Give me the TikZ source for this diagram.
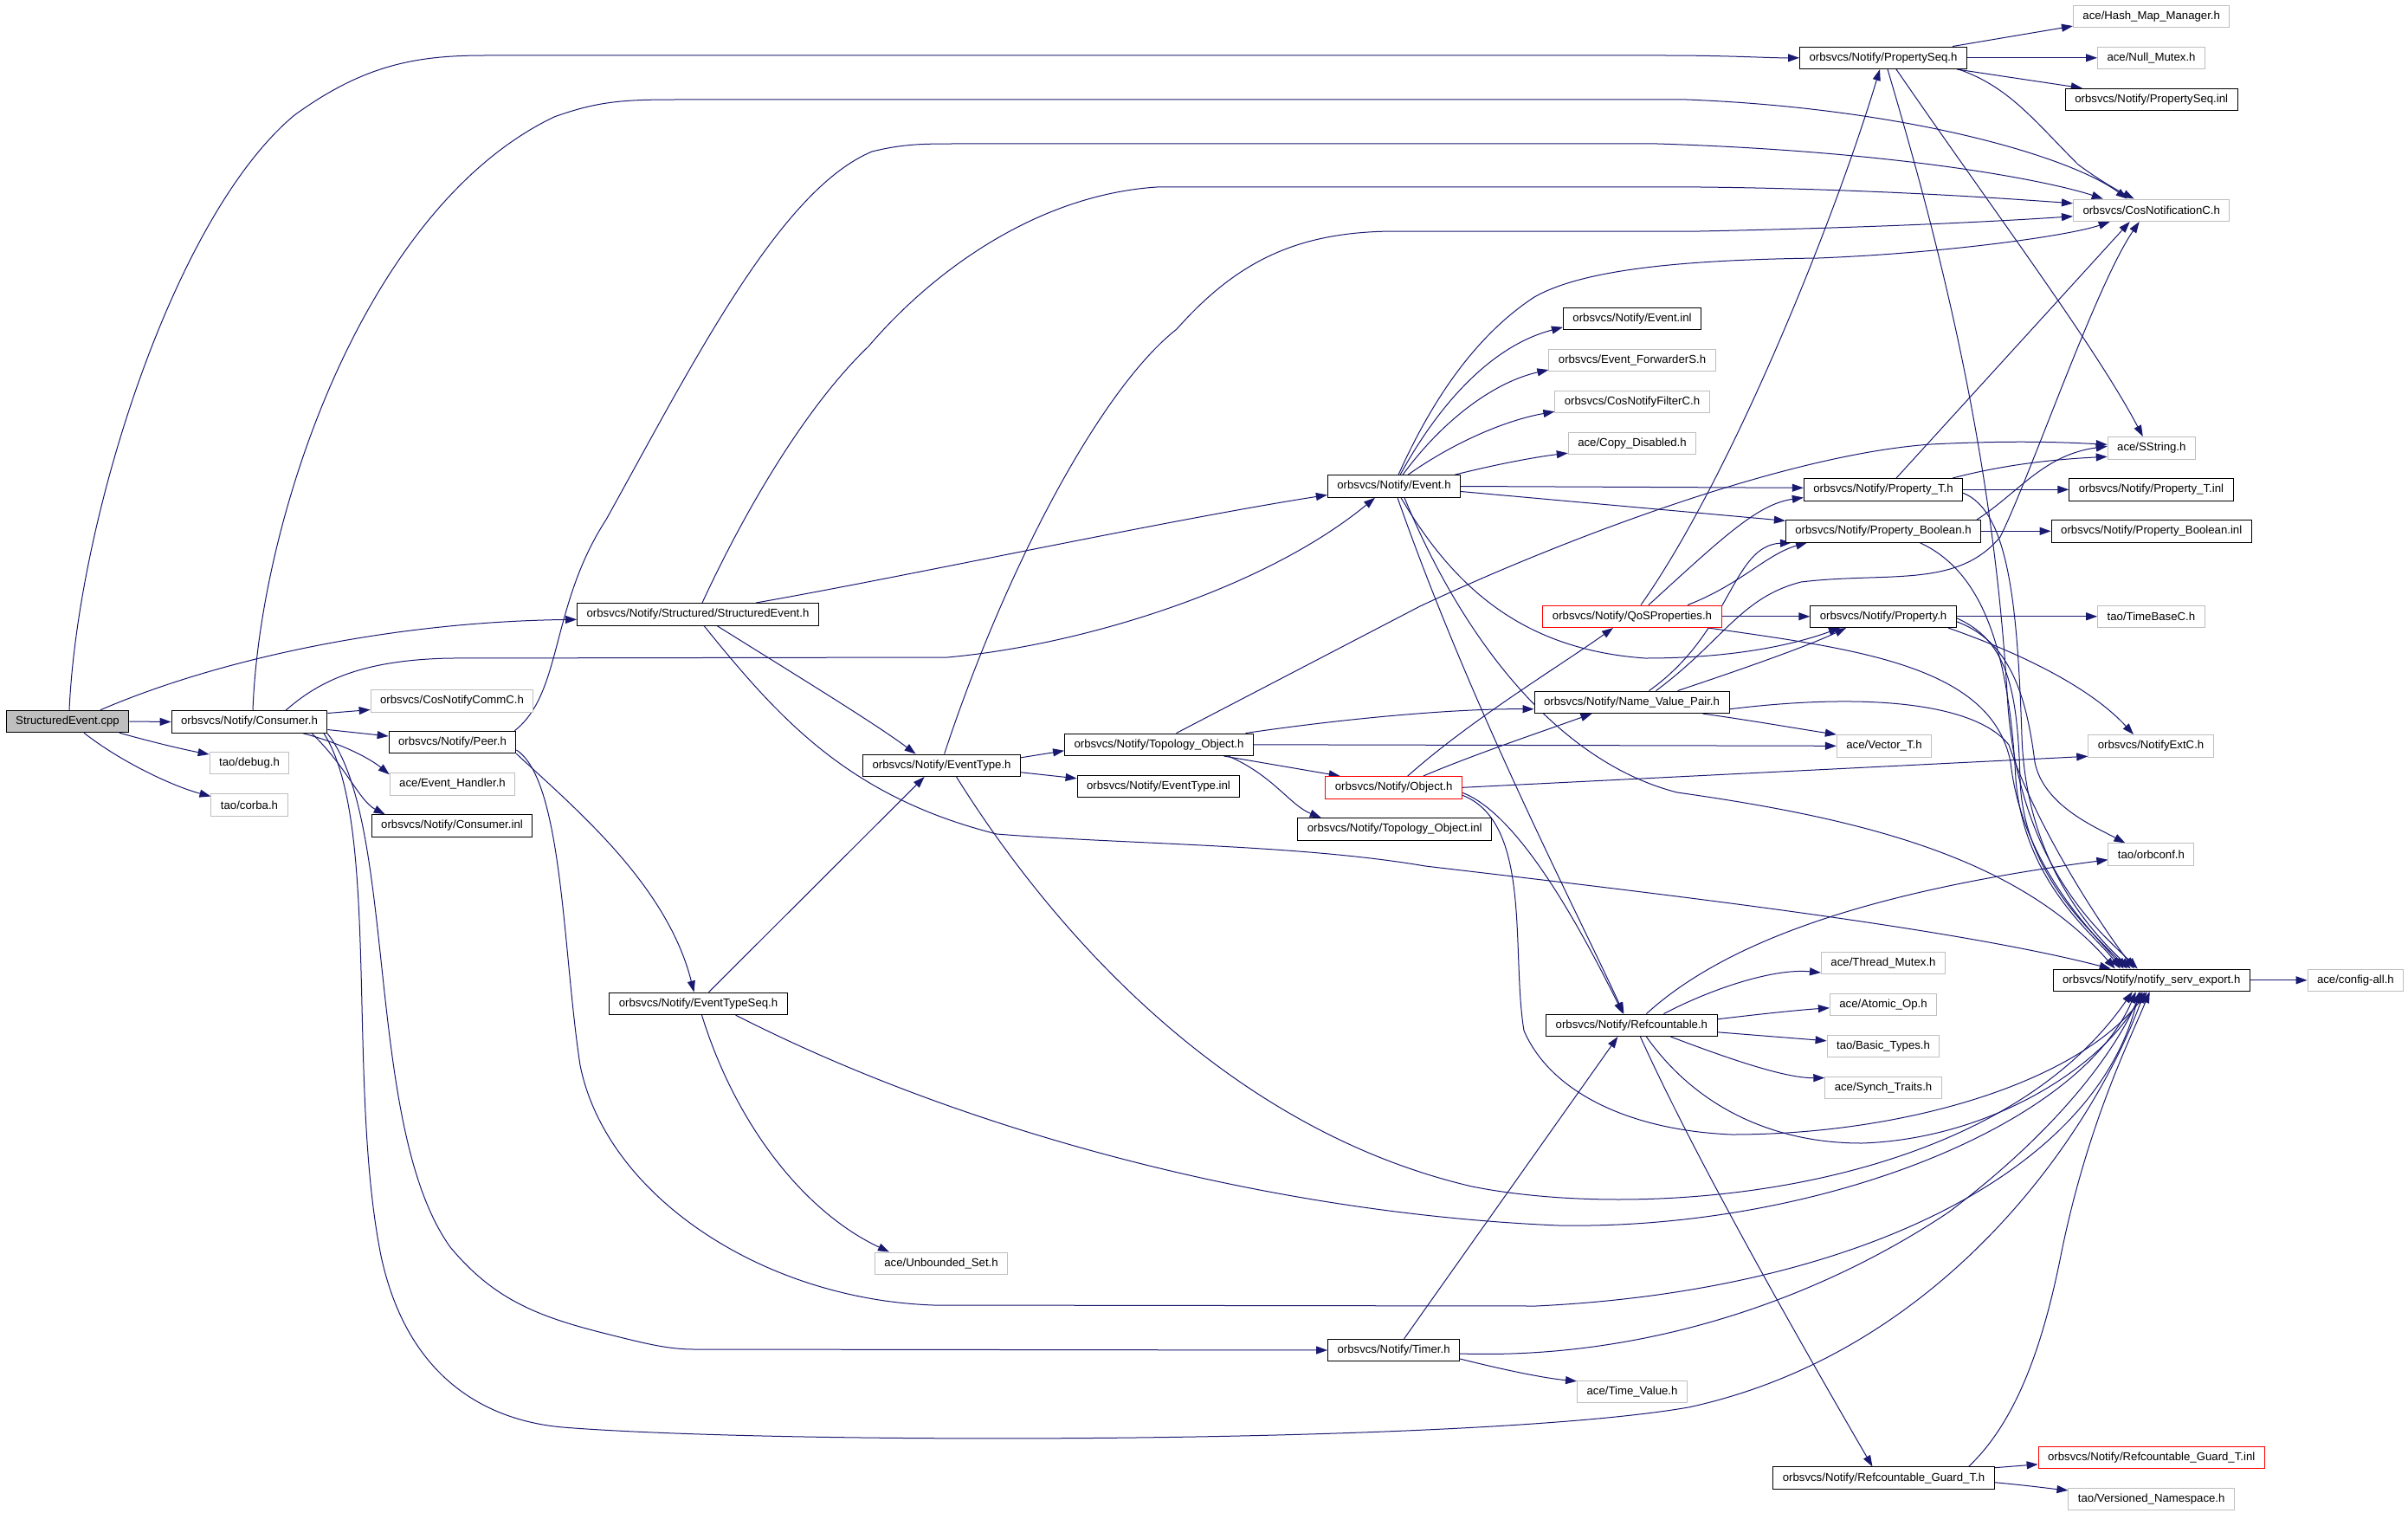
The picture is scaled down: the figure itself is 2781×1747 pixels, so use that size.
\documentclass[tikz,border=0pt]{standalone}
\usepackage{fontspec}
\setmainfont{Liberation Sans}
\usetikzlibrary{arrows.meta,backgrounds}
\definecolor{edgeblue}{HTML}{191970}
\definecolor{framegrey}{HTML}{BFBFBF}
\definecolor{rootfill}{HTML}{BFBFBF}
\begin{document}
\begin{tikzpicture}[x=1pt,y=-1pt,
        box/.style={draw=black,fill=white,line width=1pt,inner xsep=11pt,
            inner ysep=0pt,minimum height=25.5pt,font=\fontsize{13.2}{15.8}\selectfont},
        ext/.style={box,draw=framegrey},
        trunc/.style={box,draw=red},
        root/.style={box,fill=rootfill},
        edge/.style={draw=edgeblue,line width=1pt,-{Triangle[length=13pt,width=9pt]}}]
    \useasboundingbox (0,0) rectangle (2781,1747);

    \node[root]  (cpp)      at (78,833)     {StructuredEvent.cpp};
    \node[box]   (cons)     at (288,833.5)  {orbsvcs/Notify/Consumer.h};
    \node[ext]   (commc)    at (522,809.5)  {orbsvcs/CosNotifyCommC.h};
    \node[ext]   (debug)    at (288,881)    {tao/debug.h};
    \node[ext]   (corba)    at (288,929.5)  {tao/corba.h};
    \node[box]   (peer)     at (522.5,857)  {orbsvcs/Notify/Peer.h};
    \node[ext]   (evh)      at (522.5,905.5) {ace/Event\_Handler.h};
    \node[box]   (consinl)  at (522,953.5)  {orbsvcs/Notify/Consumer.inl};
    \node[box]   (sevh)     at (806,709.3)  {orbsvcs/Notify/Structured/StructuredEvent.h};
    \node[box]   (etseq)    at (806.5,1158.8) {orbsvcs/Notify/EventTypeSeq.h};
    \node[ext]   (uset)     at (1087,1458.8) {ace/Unbounded\_Set.h};
    \node[box]   (etype)    at (1087.6,883.8) {orbsvcs/Notify/EventType.h};
    \node[box]   (topo)     at (1338.5,859.8) {orbsvcs/Notify/Topology\_Object.h};
    \node[box]   (etinl)    at (1338,907.8) {orbsvcs/Notify/EventType.inl};
    \node[box]   (event)    at (1610,561.5) {orbsvcs/Notify/Event.h};
    \node[trunc] (object)   at (1609.7,909.3) {orbsvcs/Notify/Object.h};
    \node[box]   (topoinl)  at (1610.7,957.3) {orbsvcs/Notify/Topology\_Object.inl};
    \node[box]   (timer)    at (1609.6,1559) {orbsvcs/Notify/Timer.h};
    \node[box]   (evinl)    at (1885,367.8) {orbsvcs/Notify/Event.inl};
    \node[ext]   (fwd)      at (1885,415.8) {orbsvcs/Event\_ForwarderS.h};
    \node[ext]   (filt)     at (1885,464)   {orbsvcs/CosNotifyFilterC.h};
    \node[ext]   (copy)     at (1885,512)   {ace/Copy\_Disabled.h};
    \node[trunc] (qos)      at (1885,711.8) {orbsvcs/Notify/QoSProperties.h};
    \node[box]   (nvp)      at (1884.5,810.8) {orbsvcs/Notify/Name\_Value\_Pair.h};
    \node[box]   (refc)     at (1884.4,1183.8) {orbsvcs/Notify/Refcountable.h};
    \node[ext]   (timev)    at (1885,1607)  {ace/Time\_Value.h};
    \node[box]   (pseq)     at (2175,66.8)  {orbsvcs/Notify/PropertySeq.h};
    \node[box]   (propt)    at (2175,565.3) {orbsvcs/Notify/Property\_T.h};
    \node[box]   (propb)    at (2175,613.3) {orbsvcs/Notify/Property\_Boolean.h};
    \node[box]   (prop)     at (2175,711.8) {orbsvcs/Notify/Property.h};
    \node[ext]   (vect)     at (2176,861.3) {ace/Vector\_T.h};
    \node[ext]   (tmutex)   at (2175,1111.8) {ace/Thread\_Mutex.h};
    \node[ext]   (atomic)   at (2175,1159.8) {ace/Atomic\_Op.h};
    \node[ext]   (btypes)   at (2175,1207.8) {tao/Basic\_Types.h};
    \node[ext]   (synch)    at (2175,1255.8) {ace/Synch\_Traits.h};
    \node[box]   (guard)    at (2175.5,1706.7) {orbsvcs/Notify/Refcountable\_Guard\_T.h};
    \node[ext]   (hash)     at (2484.7,18.8) {ace/Hash\_Map\_Manager.h};
    \node[ext]   (nullm)    at (2484.5,66.8) {ace/Null\_Mutex.h};
    \node[box]   (pseqinl)  at (2484.7,115) {orbsvcs/Notify/PropertySeq.inl};
    \node[ext]   (cosnc)    at (2484.7,242.8) {orbsvcs/CosNotificationC.h};
    \node[ext]   (sstr)     at (2484.8,517.3) {ace/SString.h};
    \node[box]   (ptinl)    at (2484.4,565.3) {orbsvcs/Notify/Property\_T.inl};
    \node[box]   (pbinl)    at (2484.7,613.3) {orbsvcs/Notify/Property\_Boolean.inl};
    \node[ext]   (tbase)    at (2484.4,711.8) {tao/TimeBaseC.h};
    \node[ext]   (extc)     at (2484,861.3) {orbsvcs/NotifyExtC.h};
    \node[ext]   (orbconf)  at (2484.4,986.7) {tao/orbconf.h};
    \node[box]   (export)   at (2484.7,1131.8) {orbsvcs/Notify/notify\_serv\_export.h};
    \node[trunc] (guardinl) at (2484.7,1682.8) {orbsvcs/Notify/Refcountable\_Guard\_T.inl};
    \node[ext]   (vns)      at (2484.7,1730.8) {tao/Versioned\_Namespace.h};
    \node[ext]   (config)   at (2720.4,1131.8) {ace/config-all.h};

    \begin{scope}[on background layer]
    % StructuredEvent.cpp
    \draw[edge] ([xshift=2pt]cpp.north) .. controls (90,600) and (200,250) .. (340,133) .. controls (420,75) and (480,64) .. (560,64) -- (1920,64) .. controls (2000,64) and (2040,67) .. (pseq.west);
    \draw[edge] (cpp.east) -- (cons.west);
    \draw[edge] ([xshift=60pt]cpp.south) .. controls (180,858) and (215,866) .. ([yshift=10pt]debug.west);
    \draw[edge] ([xshift=19pt]cpp.south) .. controls (140,880) and (200,908) .. ([yshift=10pt]corba.west);
    \draw[edge] ([xshift=38pt]cpp.north) .. controls (250,762) and (450,718) .. ([yshift=-6pt]sevh.west);
    % Consumer.h
    \draw[edge] ([yshift=10pt]cons.east) -- ([yshift=-10pt]commc.west);
    \draw[edge] ([yshift=-9pt]cons.east) -- ([yshift=7pt]peer.west);
    \draw[edge] ([xshift=62pt]cons.south) .. controls (400,860) and (430,878) .. ([yshift=-2pt]evh.north west);
    \draw[edge] ([xshift=72pt]cons.south) .. controls (400,885) and (415,925) .. ([xshift=16pt]consinl.north west);
    \draw[edge] ([xshift=42pt]cons.north) .. controls (370,785) and (420,762) .. (520,760) -- (1094,759) .. controls (1250,745) and (1460,680) .. ([xshift=-22pt]event.south);
    \draw[edge] ([xshift=4pt]cons.north) .. controls (300,600) and (420,240) .. (640,135) .. controls (690,117) and (720,115) .. (780,115) -- (1948,115) .. controls (2200,125) and (2390,180) .. ([xshift=-28pt]cosnc.north);
    \draw[edge] ([xshift=90pt]cons.south) .. controls (460,950) and (420,1300) .. (520,1440) .. controls (570,1500) and (620,1520) .. (700,1540) .. controls (740,1550) and (770,1558) .. (801,1558) -- (timer.west);
    \draw[edge] ([xshift=86pt]cons.south) .. controls (440,950) and (400,1250) .. (440,1450) .. controls (470,1590) and (560,1640) .. (650,1648) .. controls (900,1668) and (1700,1668) .. (1950,1625) .. controls (2250,1560) and (2420,1300) .. ([xshift=-8pt]export.south);
    % Peer.h
    \draw[edge] ([xshift=-2pt]peer.north east) .. controls (650,800) and (635,700) .. (700,600) .. controls (800,420) and (900,220) .. (1007,175) .. controls (1040,167) and (1060,166) .. (1100,166) -- (1914,166) .. controls (2200,175) and (2370,210) .. ([xshift=-56pt]cosnc.north);
    \draw[edge] (peer.south east) .. controls (660,930) and (770,1020) .. ([xshift=-5pt]etseq.north);
    \draw[edge] ([yshift=-9pt]peer.east) .. controls (650,900) and (650,1100) .. (670,1230) .. controls (700,1380) and (880,1500) .. (1078,1507) -- (1774,1508) .. controls (2150,1490) and (2420,1350) .. ([xshift=-14pt]export.south);
    % StructuredEvent.h
    \draw[edge] ([xshift=67pt]sevh.north) .. controls (1050,665) and (1350,600) .. ([yshift=-10pt]event.west);
    \draw[edge] ([xshift=22pt]sevh.south) .. controls (920,780) and (1010,835) .. ([xshift=-30pt]etype.north);
    \draw[edge] ([xshift=5pt]sevh.north) .. controls (860,590) and (930,470) .. (1003,400) .. controls (1080,310) and (1200,225) .. (1336,216) -- (1964,216) .. controls (2150,218) and (2300,228) .. ([yshift=8pt]cosnc.west);
    \draw[edge] ([xshift=7pt]sevh.south) .. controls (900,830) and (980,920) .. (1151,963) .. controls (1300,975) and (1500,975) .. (1646,1000) .. controls (1900,1030) and (2250,1070) .. ([xshift=-47pt]export.north);
    % EventTypeSeq.h
    \draw[edge] ([xshift=12pt]etseq.north) -- ([xshift=-20pt]etype.south);
    \draw[edge] ([xshift=4pt]etseq.south) .. controls (850,1300) and (930,1400) .. ([xshift=-60pt]uset.north);
    \draw[edge] ([xshift=43pt]etseq.south) .. controls (1100,1300) and (1450,1400) .. (1800,1415) .. controls (2100,1420) and (2400,1300) .. ([xshift=-18pt]export.south);
    % EventType.h
    \draw[edge] ([yshift=9pt]etype.east) -- ([yshift=-7pt]topo.west);
    \draw[edge] ([yshift=-8pt]etype.east) -- ([yshift=9pt]etinl.west);
    \draw[edge] ([xshift=3pt]etype.north) .. controls (1160,660) and (1270,450) .. (1359,380) .. controls (1430,300) and (1500,268) .. (1608,267) -- (1963,267) .. controls (2200,262) and (2330,254) .. ([yshift=-7pt]cosnc.west);
    \draw[edge] ([xshift=17pt]etype.south) .. controls (1200,1050) and (1400,1300) .. (1700,1370) .. controls (1900,1410) and (2300,1380) .. ([xshift=-22pt]export.south);
    % Topology_Object.h
    \draw[edge] ([xshift=100pt]topo.north) .. controls (1550,830) and (1680,818) .. ([yshift=-8pt]nvp.west);
    \draw[edge] ([xshift=75pt]topo.south) -- ([xshift=-62pt]object.north);
    \draw[edge] ([xshift=80pt]topo.south) .. controls (1470,895) and (1490,930) .. ([xshift=-85pt]topoinl.north);
    \draw[edge] (topo.east) -- (vect.west);
    \draw[edge] ([xshift=20pt]topo.north) -- (1640,700) .. controls (1800,625) and (2060,525) .. (2230,513) .. controls (2330,508) and (2390,511) .. ([yshift=4pt]sstr.west);
    % Event.h
    \draw[edge] ([xshift=7pt]event.north) .. controls (1660,470) and (1720,400) .. ([yshift=-10pt]evinl.west);
    \draw[edge] ([xshift=10pt]event.north) .. controls (1670,480) and (1730,440) .. ([yshift=2pt]fwd.south west);
    \draw[edge] ([xshift=16pt]event.north) .. controls (1680,510) and (1740,485) .. ([yshift=2pt]filt.south west);
    \draw[edge] ([xshift=70pt]event.north) .. controls (1720,538) and (1770,528) .. ([yshift=2pt]copy.south west);
    \draw[edge] ([xshift=5pt]event.north) .. controls (1650,470) and (1700,390) .. (1772,343) .. controls (1830,310) and (1950,300) .. (2100,298) .. controls (2250,292) and (2390,272) .. ([xshift=-48pt]cosnc.south);
    \draw[edge] (event.east) -- ([yshift=2pt]propt.west);
    \draw[edge] ([yshift=-6pt]event.east) -- ([yshift=12pt]propb.west);
    \draw[edge] ([xshift=8pt]event.south) .. controls (1680,680) and (1760,750) .. (1900,760) .. controls (2000,760) and (2070,745) .. ([xshift=-50pt]prop.south);
    \draw[edge] ([xshift=4pt]event.south) .. controls (1700,820) and (1820,1050) .. ([xshift=-9pt]refc.north);
    \draw[edge] ([xshift=12pt]event.south) .. controls (1690,740) and (1800,880) .. (1937,915) .. controls (2150,945) and (2330,990) .. ([xshift=-42pt]export.north);
    % Object.h
    \draw[edge] ([xshift=16pt]object.north) .. controls (1700,830) and (1800,770) .. ([xshift=-22pt]qos.south);
    \draw[edge] ([xshift=34pt]object.north) .. controls (1700,872) and (1780,845) .. ([xshift=-46pt]nvp.south);
    \draw[edge] (object.east) -- ([yshift=-12pt]extc.west);
    \draw[edge] ([yshift=-6pt]object.east) .. controls (1740,935) and (1800,1020) .. ([xshift=-10pt]refc.north);
    \draw[edge] ([yshift=-9pt]object.east) .. controls (1770,950) and (1745,1100) .. (1760,1190) .. controls (1790,1260) and (1880,1305) .. (2000,1310) .. controls (2200,1310) and (2400,1250) .. ([xshift=-5pt]export.south);
    % QoSProperties.h
    \draw[edge] ([xshift=10pt]qos.north) .. controls (2000,550) and (2120,250) .. ([xshift=-4pt]pseq.south);
    \draw[edge] ([xshift=19pt]qos.north) .. controls (1990,620) and (2030,582) .. ([yshift=4pt]propt.south west);
    \draw[edge] ([xshift=64pt]qos.north) .. controls (2010,675) and (2040,640) .. ([xshift=-88pt]propb.south);
    \draw[edge] (qos.east) -- (prop.west);
    \draw[edge] ([xshift=88pt]qos.south) .. controls (2150,750) and (2300,770) .. (2322,880) .. controls (2335,1000) and (2420,1080) .. ([xshift=-32pt]export.north);
    % Name_Value_Pair.h
    \draw[edge] ([xshift=20pt]nvp.north) .. controls (2000,730) and (2000,630) .. ([xshift=-106pt]propb.south);
    \draw[edge] ([xshift=28pt]nvp.north) .. controls (1990,740) and (2010,690) .. (2080,672) .. controls (2180,660) and (2260,680) .. (2310,620) .. controls (2345,550) and (2420,330) .. ([xshift=-14pt]cosnc.south);
    \draw[edge] ([xshift=53pt]nvp.north) .. controls (2020,770) and (2090,745) .. ([xshift=-43pt]prop.south);
    \draw[edge] ([xshift=82pt]nvp.south) .. controls (2030,833) and (2080,842) .. (vect.north west);
    \draw[edge] ([yshift=-8pt]nvp.east) .. controls (2150,800) and (2280,810) .. (2320,860) .. controls (2350,950) and (2420,1060) .. ([xshift=-20pt]export.north);
    % Refcountable.h
    \draw[edge] ([xshift=37pt]refc.north) .. controls (1980,1140) and (2050,1118) .. ([yshift=2pt]tmutex.south west);
    \draw[edge] ([yshift=7pt]refc.east) .. controls (2040,1170) and (2080,1166) .. ([yshift=-4pt]atomic.west);
    \draw[edge] ([yshift=-8pt]refc.east) -- ([yshift=6pt]btypes.west);
    \draw[edge] ([xshift=45pt]refc.south) .. controls (1990,1220) and (2060,1245) .. ([yshift=-2pt]synch.north west);
    \draw[edge] ([xshift=10pt]refc.south) .. controls (1950,1320) and (2050,1500) .. ([xshift=-13pt]guard.north);
    \draw[edge] ([xshift=17pt]refc.north) .. controls (1990,1090) and (2150,1030) .. ([yshift=-6pt]orbconf.west);
    \draw[edge] ([xshift=17pt]refc.south) .. controls (1960,1280) and (2050,1320) .. (2150,1320) .. controls (2300,1315) and (2430,1230) .. ([xshift=-10pt]export.south);
    % Timer.h
    \draw[edge] ([xshift=12pt]timer.north) -- ([xshift=-16pt]refc.south);
    \draw[edge] ([yshift=-4pt]timer.east) .. controls (1900,1570) and (2100,1500) .. (2250,1400) .. controls (2370,1310) and (2440,1220) .. ([xshift=-12pt]export.south);
    \draw[edge] ([yshift=-10pt]timer.east) .. controls (1750,1585) and (1790,1592) .. ([yshift=-1pt]timev.north west);
    % Refcountable_Guard_T.h
    \draw[edge] ([yshift=12pt]guard.east) -- ([yshift=-8pt]guardinl.west);
    \draw[edge] ([yshift=-5pt]guard.east) .. controls (2340,1715) and (2370,1719) .. ([yshift=10pt]vns.west);
    \draw[edge] ([xshift=98pt]guard.north) .. controls (2330,1640) and (2360,1550) .. (2380,1450) .. controls (2410,1300) and (2460,1200) .. ([xshift=-2pt]export.south);
    % PropertySeq.h
    \draw[edge] ([xshift=80pt]pseq.north) -- ([yshift=2pt]hash.south west);
    \draw[edge] (pseq.east) -- (nullm.west);
    \draw[edge] ([xshift=85pt]pseq.south) -- ([xshift=20pt]pseqinl.north west);
    \draw[edge] ([xshift=87pt]pseq.south) .. controls (2320,100) and (2350,140) .. (2400,190) .. controls (2430,212) and (2450,222) .. ([xshift=-20pt]cosnc.north);
    \draw[edge] ([xshift=15pt]pseq.south) .. controls (2300,240) and (2420,400) .. ([xshift=-10pt]sstr.north);
    \draw[edge] ([xshift=5pt]pseq.south) .. controls (2230,250) and (2300,500) .. (2318,800) .. controls (2328,1000) and (2430,1080) .. ([xshift=-16pt]export.north);
    % Property_T.h
    \draw[edge] (propt.east) -- (ptinl.west);
    \draw[edge] ([xshift=80pt]propt.north) .. controls (2320,535) and (2380,530) .. ([yshift=-10pt]sstr.west);
    \draw[edge] ([xshift=15pt]propt.north) -- ([xshift=-25pt]cosnc.south);
    \draw[edge] ([yshift=-4pt]propt.east) .. controls (2320,590) and (2330,700) .. (2335,850) .. controls (2340,1000) and (2420,1080) .. ([xshift=-24pt]export.north);
    % Property_Boolean.h
    \draw[edge] (propb.east) -- (pbinl.west);
    \draw[edge] ([xshift=108pt]propb.north) .. controls (2330,570) and (2360,525) .. ([yshift=2pt]sstr.west);
    \draw[edge] ([xshift=42pt]propb.south) .. controls (2290,660) and (2320,750) .. (2328,900) .. controls (2338,1020) and (2420,1080) .. ([xshift=-36pt]export.north);
    % Property.h
    \draw[edge] (prop.east) -- (tbase.west);
    \draw[edge] ([xshift=75pt]prop.south) .. controls (2350,760) and (2420,800) .. ([xshift=-20pt]extc.north);
    \draw[edge] ([yshift=-6pt]prop.east) .. controls (2320,740) and (2340,800) .. (2350,880) .. controls (2360,930) and (2420,955) .. ([xshift=-30pt]orbconf.north);
    \draw[edge] ([yshift=-2pt]prop.east) .. controls (2320,740) and (2330,800) .. (2333,900) .. controls (2336,1010) and (2420,1080) .. ([xshift=-28pt]export.north);
    % notify_serv_export.h
    \draw[edge] (export.east) -- (config.west);
    \end{scope}
\end{tikzpicture}
\end{document}
